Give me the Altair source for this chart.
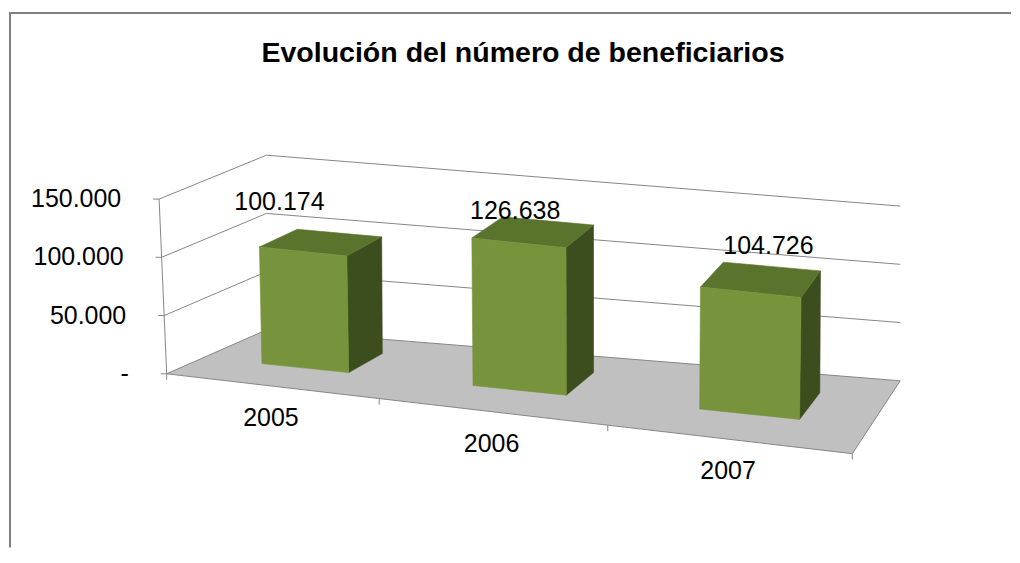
import altair as alt
import pandas as pd

# ---------------- data ----------------
years = ["2005", "2006", "2007"]
beneficiarios = [100174, 126638, 104726]
value_labels = ["100.174", "126.638", "104.726"]
y_ticks = [0, 50000, 100000, 150000]
y_tick_labels = ["-", "50.000", "100.000", "150.000"]
title_text = "Evolución del número de beneficiarios"

# ---------------- layout / 3D projection constants ----------------
W, H = 1004, 540
OX, OY = 8, 8                      # page position of the view
FL_X, FL_Y = 166.0, 374.0          # floor front-left corner
FRONT_DX, FRONT_DY = 687.0, 80.0   # floor front edge vector
DEPTH_L = (100.0, -44.0)           # depth vector at left side
DEPTH_R = (48.0, -73.0)            # depth vector at right side
PX_PER_VAL = 1.167 / 1000.0
VX, VC = 600.0, 1e-4               # vertical vanishing tweak
PERSP = 0.105                      # horizontal perspective along categories
CAT_UNIT = 229.0                   # px per category unit
BAR_HALF = 0.07                    # half bar width (fraction of axis length)
Z0, Z1 = 0.37, 0.75                # bar depth span
N = len(years)

FRONT_C, SIDE_C, TOP_C = "#77933C", "#3D4E1E", "#5B742D"
FLOOR_C, LINE_C = "#C0C0C0", "#868686"
FONT = "Liberation Sans"


def t_of(s):
    return (1 - PERSP) * s + PERSP * s * s


def proj(s, v, z):
    t = t_of(s)
    bx = FL_X + FRONT_DX * t + z * (DEPTH_L[0] + (DEPTH_R[0] - DEPTH_L[0]) * t)
    by = FL_Y + FRONT_DY * t + z * (DEPTH_L[1] + (DEPTH_R[1] - DEPTH_L[1]) * t)
    h = v * PX_PER_VAL
    x = VX + (bx - VX) * (1 + VC * h * (1 - z))
    return x, by - h


def to_data(pt, dx=0.0, dy=0.0):
    x, y = pt
    return (x + dx - FL_X) / CAT_UNIT, (FL_Y - (y + dy)) / PX_PER_VAL


X_DOM = [(OX - FL_X) / CAT_UNIT, (OX + W - FL_X) / CAT_UNIT]
Y_DOM = [(FL_Y - (OY + H)) / PX_PER_VAL, (FL_Y - OY) / PX_PER_VAL]


def xy():
    return dict(
        x=alt.X("X:Q", scale=alt.Scale(domain=X_DOM, nice=False, zero=False), axis=None),
        y=alt.Y("Y:Q", scale=alt.Scale(domain=Y_DOM, nice=False, zero=False), axis=None),
    )


# ---------------- polygons ----------------
poly_rows = []


def add_poly(pid, pts, color, rows):
    for k, p in enumerate(pts + [pts[0]]):
        X, Y = to_data(p)
        rows.append(dict(pid=pid, ord=k, X=X, Y=Y, c=color))


floor_rows = []
add_poly("floor", [proj(0, 0, 0), proj(1, 0, 0), proj(1, 0, 1), proj(0, 0, 1)], FLOOR_C, floor_rows)
floor_df = pd.DataFrame(floor_rows)

for i, (yr, v) in enumerate(zip(years, beneficiarios)):
    sc = (i + 0.5) / N
    s0, s1 = sc - BAR_HALF, sc + BAR_HALF
    add_poly(yr + "side", [proj(s1, 0, Z0), proj(s1, 0, Z1), proj(s1, v, Z1), proj(s1, v, Z0)], SIDE_C, poly_rows)
    add_poly(yr + "top", [proj(s0, v, Z0), proj(s1, v, Z0), proj(s1, v, Z1), proj(s0, v, Z1)], TOP_C, poly_rows)
    add_poly(yr + "front", [proj(s0, 0, Z0), proj(s1, 0, Z0), proj(s1, v, Z0), proj(s0, v, Z0)], FRONT_C, poly_rows)
bars_df = pd.DataFrame(poly_rows)

# ---------------- grid / axis lines ----------------
line_rows = []


def add_line(pid, pts, dxy=None):
    for k, p in enumerate(pts):
        d = dxy[k] if dxy else (0, 0)
        X, Y = to_data(p, *d)
        line_rows.append(dict(pid=pid, ord=k, X=X, Y=Y))


for v in y_ticks[1:]:
    add_line(f"back{v}", [proj(0, v, 1), proj(1, v, 1)])
    add_line(f"left{v}", [proj(0, v, 0), proj(0, v, 1)])
add_line("yaxis", [proj(0, 0, 0), proj(0, max(y_ticks), 0)])
for v in y_ticks:
    p = proj(0, v, 0)
    add_line(f"ytick{v}", [p, p], [(-6, 0), (0, 0)])
for k in range(N + 1):
    p = proj(k / N, 0, 0)
    add_line(f"xtick{k}", [p, p], [(0, 0), (0, 6)])
lines_df = pd.DataFrame(line_rows)

# ---------------- labels ----------------
ylab_rows = []
for v, lab in zip(y_ticks, y_tick_labels):
    X, Y = to_data(proj(0, v, 0), -38, 0)
    ylab_rows.append(dict(X=X, Y=Y, txt=lab))
ylab_df = pd.DataFrame(ylab_rows)

xlab_rows, vlab_rows = [], []
for i, (yr, v, lab) in enumerate(zip(years, beneficiarios, value_labels)):
    sc = (i + 0.5) / N
    X, Y = to_data(proj(sc, 0, 0), 0, 32)
    xlab_rows.append(dict(X=X, Y=Y, txt=yr))
    t = t_of(sc)
    h = v * PX_PER_VAL
    X, Y = to_data(proj(sc, v, Z0), -23.4 + 62.2 * (t - 0.152), -118 + 0.583 * h)
    vlab_rows.append(dict(X=X, Y=Y, txt=lab))
xlab_df = pd.DataFrame(xlab_rows)
vlab_df = pd.DataFrame(vlab_rows)

# ---------------- chart ----------------
floor = alt.Chart(floor_df).mark_line(
    filled=True, stroke=LINE_C, strokeWidth=1, fill=FLOOR_C
).encode(**xy(), detail="pid:N", order="ord:Q")

grid = alt.Chart(lines_df).mark_line(color=LINE_C, strokeWidth=1).encode(
    **xy(), detail="pid:N", order="ord:Q"
)

bars = alt.Chart(bars_df).mark_line(filled=True, strokeWidth=0.6).encode(
    **xy(),
    detail="pid:N",
    order="ord:Q",
    color=alt.Color("c:N", scale=None),
    stroke=alt.Stroke("c:N", scale=None),
)

ylabels = alt.Chart(ylab_df).mark_text(
    font=FONT, fontSize=25, align="right", baseline="middle", color="black"
).encode(**xy(), text="txt:N")

xlabels = alt.Chart(xlab_df).mark_text(
    font=FONT, fontSize=25, align="center", baseline="middle", color="black"
).encode(**xy(), text="txt:N")

vlabels = alt.Chart(vlab_df).mark_text(
    font=FONT, fontSize=25, align="center", baseline="middle", color="black"
).encode(**xy(), text="txt:N")

title = alt.Chart(pd.DataFrame({"t": [title_text]})).mark_text(
    font=FONT, fontSize=28.6, fontWeight="bold", align="center", baseline="alphabetic", color="black"
).encode(x=alt.value(515), y=alt.value(54), text="t:N")

border_df = pd.DataFrame({"k": [0]})
border_top = alt.Chart(border_df).mark_rule(color="#808080", strokeWidth=2).encode(
    x=alt.value(0), x2=alt.value(W), y=alt.value(4.5)
)
border_left = alt.Chart(border_df).mark_rule(color="#808080", strokeWidth=2).encode(
    x=alt.value(1), y=alt.value(4.5), y2=alt.value(H)
)

chart = alt.layer(
    border_top, border_left, grid, floor, bars, ylabels, xlabels, vlabels, title
).properties(width=W, height=H, padding=0, background="white").configure_view(stroke=None)

chart.save("out.html", embed_options={"renderer": "svg", "actions": False})
